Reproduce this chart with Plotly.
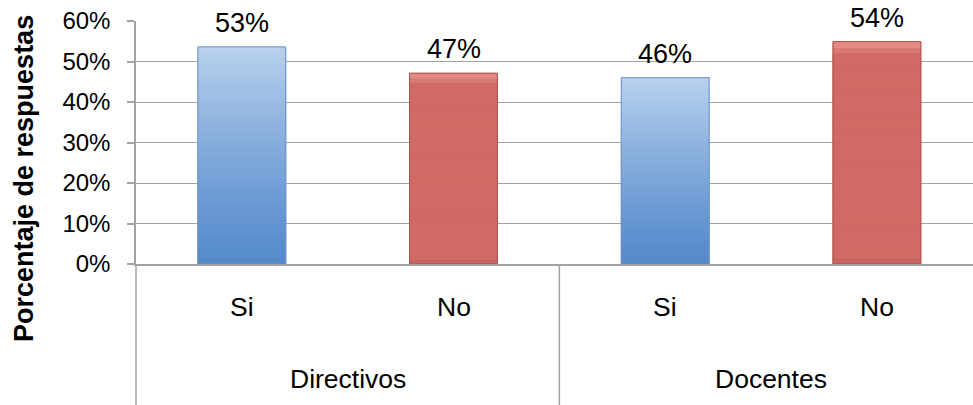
import plotly.graph_objects as go

# ---- data ----
groups = ["Directivos", "Directivos", "Docentes", "Docentes"]
answers = ["Si", "No", "Si", "No"]
values = [53.6, 47.1, 46.0, 54.9]          # percent (bar heights)
value_labels = ["53%", "47%", "46%", "54%"]
y_ticks = [0, 10, 20, 30, 40, 50, 60]
y_tick_labels = ["0%", "10%", "20%", "30%", "40%", "50%", "60%"]
y_title = "Porcentaje de respuestas"

# ---- style ----
FONT = "Liberation Sans, Arial, sans-serif"
GRID = "#a3a3a3"
W, H = 973, 405
ML, MR, MT, MB = 136, 0, 21, 141
X_RANGE = [-0.5, 3.454]
BAR_W = 0.415
N = 40


def lerp(c1, c2, t):
    return "rgb(%d,%d,%d)" % tuple(round(a + (b - a) * t) for a, b in zip(c1, c2))


BLUE_BOT, BLUE_TOP = (84, 138, 204), (184, 209, 237)
RED_BOT, RED_MID, RED_TOP = (196, 94, 88), (208, 106, 100), (232, 146, 140)

xs = list(range(len(values)))
fig = go.Figure()

for kind in ["Si", "No"]:
    idx = [i for i in xs if answers[i] == kind]
    xv = [xs[i] for i in idx]
    vv = [values[i] for i in idx]
    for k in range(N):
        t = (k + 0.5) / N
        if kind == "Si":
            col = lerp(BLUE_BOT, BLUE_TOP, t ** 1.2)
        else:
            if t < 0.03:
                col = lerp(RED_BOT, RED_MID, t / 0.03)
            elif t > 0.94:
                col = lerp(RED_MID, RED_TOP, (t - 0.94) / 0.06)
            else:
                col = "rgb(%d,%d,%d)" % RED_MID
        fig.add_trace(go.Bar(
            x=xv, y=[v / N for v in vv], base=[v * k / N for v in vv],
            width=BAR_W, marker=dict(color=col, line=dict(width=1, color=col)),
            showlegend=False, hoverinfo="skip"))
    # outline
    fig.add_trace(go.Bar(
        x=xv, y=vv, base=[0] * len(vv), width=BAR_W,
        marker=dict(color="rgba(0,0,0,0)",
                    line=dict(width=1, color="#6b93c4" if kind == "Si" else "#a9524d")),
        showlegend=False, hoverinfo="skip"))

annotations = []
for i in xs:
    annotations.append(dict(x=xs[i], y=values[i], xref="x", yref="y", text=value_labels[i],
                            showarrow=False, yshift=24, yanchor="middle",
                            font=dict(family=FONT, size=27, color="black")))
    annotations.append(dict(x=xs[i], y=0, xref="x", yref="paper", text=answers[i],
                            showarrow=False, yshift=-42.5, yanchor="middle",
                            font=dict(family=FONT, size=26.5, color="black")))

group_names = []
for g in groups:
    if g not in group_names:
        group_names.append(g)
shapes = []
plot_w = W - ML - MR
plot_h = H - MT - MB
for g in group_names:
    idx = [i for i in xs if groups[i] == g]
    annotations.append(dict(x=sum(idx) / len(idx), y=0, xref="x", yref="paper", text=g,
                            showarrow=False, yshift=-114.5, yanchor="middle",
                            font=dict(family=FONT, size=26.5, color="black")))
    left = min(idx) - 0.5
    px = (left - X_RANGE[0]) / (X_RANGE[1] - X_RANGE[0])
    shapes.append(dict(type="line", xref="paper", yref="paper", x0=px, x1=px,
                       y0=0, y1=-MB / plot_h, line=dict(color=GRID, width=1.5)))

annotations.append(dict(x=0, y=(plot_h - (179 - MT)) / plot_h, xref="paper", yref="paper",
                        xshift=-112, text="<b>%s</b>" % y_title, textangle=-90,
                        showarrow=False, xanchor="center", yanchor="middle",
                        font=dict(family=FONT, size=27, color="black")))

fig.update_layout(
    width=W, height=H, margin=dict(l=ML, r=MR, t=MT, b=MB, pad=0),
    paper_bgcolor="white", plot_bgcolor="white", barmode="overlay",
    showlegend=False, annotations=annotations, shapes=shapes,
    xaxis=dict(range=X_RANGE, showticklabels=False, ticks="", showgrid=False,
               zeroline=False, showline=True, linecolor=GRID, linewidth=1.5, fixedrange=True),
    yaxis=dict(range=[0, 60], tickvals=y_ticks, ticktext=y_tick_labels, ticks="outside",
               ticklen=7, tickwidth=1.5, tickcolor=GRID, showgrid=True, gridcolor=GRID,
               gridwidth=1.3, zeroline=False, showline=True, linecolor=GRID, linewidth=1.5,
               ticklabelstandoff=12,
               tickfont=dict(family=FONT, size=24, color="black")),
)

fig.write_html("out.html", config={"displayModeBar": False},
               post_script="document.body.style.margin='0';document.body.style.overflow='hidden';")
